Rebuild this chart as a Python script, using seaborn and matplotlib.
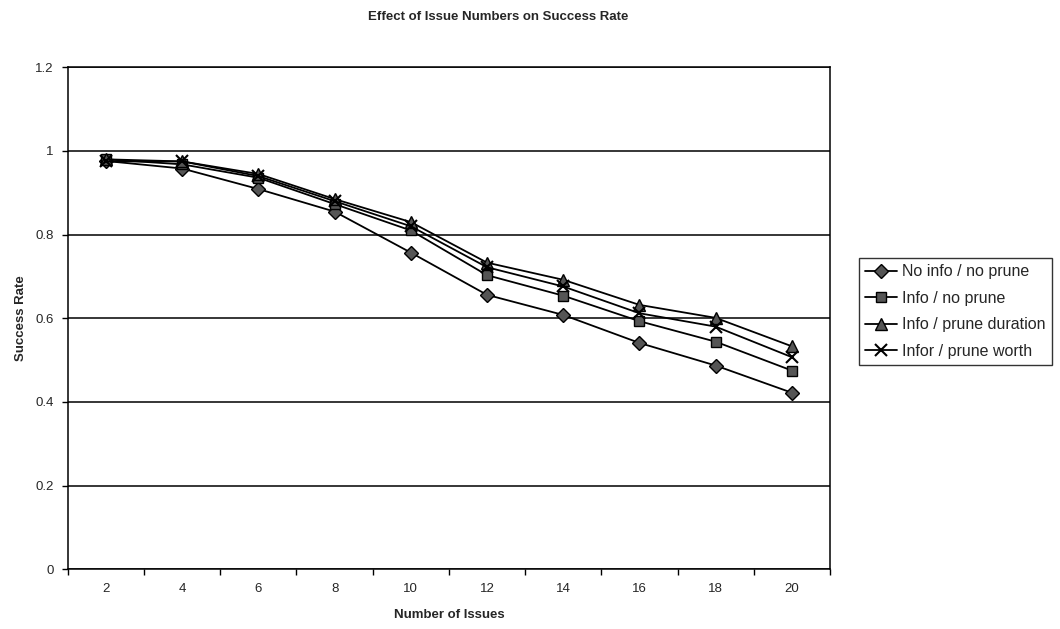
import matplotlib
matplotlib.use("Agg")
import matplotlib.pyplot as plt
import seaborn as sns
import pandas as pd
import numpy as np

issues = [2, 4, 6, 8, 10, 12, 14, 16, 18, 20]
no_info_no_prune = [0.976, 0.958, 0.909, 0.855, 0.757, 0.656, 0.608, 0.541, 0.487, 0.422]
info_no_prune = [0.980, 0.968, 0.936, 0.873, 0.810, 0.703, 0.654, 0.593, 0.544, 0.475]
info_prune_duration = [0.980, 0.975, 0.945, 0.885, 0.830, 0.733, 0.692, 0.632, 0.601, 0.533]
infor_prune_worth = [0.975, 0.975, 0.940, 0.880, 0.820, 0.722, 0.676, 0.612, 0.580, 0.507]
series_names = ["No info / no prune", "Info / no prune", "Info / prune duration", "Infor / prune worth"]
x_ticks = [2, 4, 6, 8, 10, 12, 14, 16, 18, 20]
y_ticks = [0, 0.2, 0.4, 0.6, 0.8, 1.0, 1.2]
y_labels = ["0", "0.2", "0.4", "0.6", "0.8", "1", "1.2"]

rows = []
for name, vals in zip(series_names, [no_info_no_prune, info_no_prune, info_prune_duration, infor_prune_worth]):
    for x, v in zip(issues, vals):
        rows.append({"Number of Issues": x, "Success Rate": v, "Series": name})
df = pd.DataFrame(rows)

sns.set_theme(style="white")
plt.rcParams['font.family'] = ['Liberation Sans', 'DejaVu Sans']

fig = plt.figure(figsize=(10.6, 6.29), dpi=100)
ax = fig.add_axes([0.064, 0.095, 0.719, 0.798])

markers = {"No info / no prune": "D", "Info / no prune": "s",
           "Info / prune duration": "^", "Infor / prune worth": "x"}
sizes = {"No info / no prune": 7, "Info / no prune": 7, "Info / prune duration": 8, "Infor / prune worth": 8}

for name in series_names:
    sub = df[df["Series"] == name]
    sns.lineplot(data=sub, x="Number of Issues", y="Success Rate", ax=ax,
                 color="black", linewidth=1.3, marker=markers[name],
                 markersize=sizes[name], markerfacecolor="#555555",
                 markeredgecolor="black", markeredgewidth=1.0 if name != "Infor / prune worth" else 1.5,
                 label=name)

ax.set_xlim(1, 21)
ax.set_ylim(0, 1.2)
ax.set_xticks(x_ticks)
ax.set_xticks(np.arange(1, 22, 2), minor=True)
ax.set_xticklabels([str(t) for t in x_ticks], fontsize=9.5)
ax.set_yticks(y_ticks)
ax.set_yticklabels(y_labels, fontsize=9.5)
ax.tick_params(axis="x", which="major", length=0, pad=10)
ax.tick_params(axis="x", which="minor", length=4, width=1, direction="out", color="black", bottom=True)
ax.tick_params(axis="y", which="major", length=4, width=1, direction="out", color="black", left=True, pad=6)
ax.yaxis.grid(True, color="black", linewidth=1.1)
ax.xaxis.grid(False)
for s in ax.spines.values():
    s.set_visible(True)
    s.set_color("black")
    s.set_linewidth(1.1)

ax.set_xlabel("Number of Issues", fontsize=9.5, fontweight="bold", labelpad=10)
ax.set_ylabel("Success Rate", fontsize=9.5, fontweight="bold", labelpad=6)
fig.suptitle("Effect of Issue Numbers on Success Rate", fontsize=9.5, fontweight="bold", x=0.47, y=0.982)

leg = ax.legend(loc="upper left", bbox_to_anchor=(1.038, 0.62), frameon=True, fontsize=11.5,
                handlelength=2.0, handletextpad=0.3, borderpad=0.4, labelspacing=0.72,
                borderaxespad=0.0, fancybox=False, edgecolor="black")
leg.get_frame().set_linewidth(1.0)

fig.savefig("out.png", dpi=100, facecolor="white")
